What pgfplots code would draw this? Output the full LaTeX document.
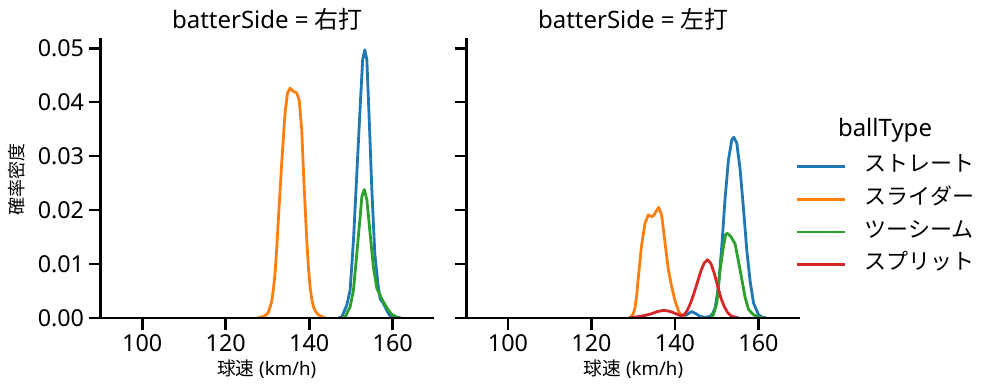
\documentclass[border=0pt]{standalone}
\usepackage{fontspec}
\setmainfont{Noto Sans}
\newfontfamily\cjk{Noto Sans CJK JP}
\usepackage{pgfplots}
\pgfplotsset{compat=1.18}
\definecolor{tabblue}{HTML}{1F77B4}
\definecolor{taborange}{HTML}{FF7F0E}
\definecolor{tabgreen}{HTML}{2CA02C}
\definecolor{tabred}{HTML}{D62728}
\pgfplotsset{
  kdeaxis/.style={
    anchor=south west,
    width=250.5pt, height=210pt, scale only axis,
    xmin=90, xmax=170, ymin=0, ymax=0.0519,
    axis lines=left,
    axis line style={-, line width=1.9pt, black},
    tick align=outside, major tick length=8.8pt,
    every tick/.style={line width=1.9pt, black},
    xtick={100,120,140,160},
    ytick={0,0.01,0.02,0.03,0.04,0.05},
    scaled y ticks=false,
    /pgf/number format/assume math mode=true,
    ticklabel style={font=\fontsize{17.5}{20}\selectfont},
    yticklabel style={/pgf/number format/fixed, /pgf/number format/fixed zerofill, /pgf/number format/precision=2},
    axis on top,
    every axis plot/.append style={line width=2.1pt, line join=round},
  }
}
\begin{document}
\begin{tikzpicture}
\useasboundingbox (0,0) rectangle (746.25pt,293.25pt);
\begin{axis}[kdeaxis, at={(75.375pt,54.75pt)}]
\addplot[tabblue] coordinates {(147.0,0) (147.8,0.0002) (149.0,0.0024) (149.8,0.0052) (150.6,0.0145) (151.4,0.0268) (152.2,0.0392) (152.8,0.0479) (153.3,0.0497) (153.8,0.0479) (154.4,0.0361) (155.0,0.0237) (155.7,0.0120) (156.5,0.0060) (157.0,0.0035) (157.7,0.0028) (158.5,0.0015) (159.3,0.0004) (160.1,0.0001) (161,0)};
\addplot[taborange] coordinates {(127.5,0) (128.2,0.0001) (129.4,0.0004) (130.2,0.0010) (131.0,0.0030) (131.4,0.0052) (131.8,0.0083) (132.2,0.0128) (132.6,0.0182) (133.4,0.0287) (134.2,0.0380) (134.8,0.0417) (135.4,0.0426) (136.2,0.0420) (137.0,0.0417) (137.6,0.0404) (138.2,0.0349) (138.7,0.0256) (139.4,0.0145) (139.8,0.0095) (140.2,0.0058) (140.6,0.0035) (141.0,0.0021) (141.6,0.0011) (142.2,0.0006) (143.4,0.0001) (144,0)};
\addplot[tabgreen] coordinates {(148,0) (148.6,0.0002) (149.8,0.0021) (150.6,0.0052) (151.4,0.0120) (152.2,0.0188) (152.6,0.0225) (153.2,0.0238) (153.8,0.0219) (154.6,0.0155) (155.4,0.0092) (156.2,0.0055) (157.4,0.0035) (158.5,0.0020) (159.7,0.0007) (160.9,0.0002) (162,0)};
\end{axis}
\begin{axis}[kdeaxis, at={(349.69pt,54.75pt)}, yticklabels={},
  legend style={at={(0.9858,0.5786)}, anchor=north west, draw=none, fill=none,
    inner sep=0pt, outer sep=0pt, row sep=8.5pt, column sep=14pt,
    font=\fontsize{16.5}{20}\selectfont\cjk,
    nodes={inner sep=0pt, text height=12pt, text depth=4pt}},
  legend cell align=left,
  legend image code/.code={\draw[#1] (0pt,0pt) -- (36pt,0pt);}]
\addplot[tabblue] coordinates {(141,0) (142,0.0002) (143,0.0007) (144.0,0.0012) (145.0,0.0008) (146,0.0003) (147.2,0.0001) (148.4,0.0003) (149.0,0.0008) (149.6,0.0018) (150.4,0.0058) (151.2,0.0132) (152.0,0.0222) (152.8,0.0293) (153.6,0.0330) (154.1,0.0335) (154.8,0.0324) (155.6,0.0275) (156.4,0.0203) (157.2,0.0125) (158.0,0.0068) (158.8,0.0028) (160.0,0.0006) (161.0,0.0001) (162,0)};
\addlegendentry{ストレート}
\addplot[taborange] coordinates {(129,0) (129.5,0.0002) (130.0,0.0008) (130.4,0.0018) (130.8,0.0040) (131.2,0.0074) (132.0,0.0135) (132.8,0.0175) (133.6,0.0191) (134.4,0.0188) (134.9,0.0190) (135.5,0.0198) (136.1,0.0205) (136.8,0.0191) (137.6,0.0140) (138.4,0.0090) (139.2,0.0058) (140.0,0.0032) (141.0,0.0010) (142.0,0.0002) (142.5,0)};
\addlegendentry{スライダー}
\addplot[tabgreen] coordinates {(148.4,0) (149.2,0.0006) (150.0,0.0027) (150.8,0.0089) (151.6,0.0132) (152.1,0.0154) (152.5,0.0157) (153.0,0.0154) (153.6,0.0148) (154.4,0.0137) (155.2,0.0105) (156.0,0.0072) (156.8,0.0038) (157.6,0.0016) (158.8,0.0006) (160,0.0002) (161.6,0)};
\addlegendentry{ツーシーム}
\addplot[tabred] coordinates {(129,0) (130,0.0001) (131.6,0.0003) (133,0.0005) (134.4,0.0008) (135.8,0.0012) (137.2,0.0014) (138.4,0.0013) (139.6,0.0010) (140.8,0.0006) (141.6,0.0004) (142.3,0.0007) (143.0,0.0015) (143.8,0.0029) (144.6,0.0047) (145.4,0.0067) (146.2,0.0087) (147.0,0.0102) (147.8,0.0108) (148.6,0.0101) (149.4,0.0083) (150.2,0.0060) (151.0,0.0037) (151.8,0.0021) (152.6,0.0010) (153.4,0.0004) (154.2,0.0002) (155.2,0)};
\addlegendentry{スプリット}
\end{axis}
\node[anchor=base, inner sep=0pt, font=\fontsize{18}{21}\selectfont] at (200.6pt,272pt) {batterSide = {\cjk 右打}};
\node[anchor=base, inner sep=0pt, font=\fontsize{18}{21}\selectfont] at (475.1pt,272pt) {batterSide = {\cjk 左打}};
\node[anchor=base, inner sep=0pt, font=\fontsize{14}{16}\selectfont] at (200pt,11.25pt) {{\cjk 球速} (km/h)};
\node[anchor=base, inner sep=0pt, font=\fontsize{14}{16}\selectfont] at (475.1pt,11.25pt) {{\cjk 球速} (km/h)};
\node[rotate=90, anchor=center, inner sep=0pt, font=\fontsize{13.5}{16}\selectfont\cjk] at (12.4pt,158.25pt) {確率密度};
\node[anchor=base, inner sep=0pt, font=\fontsize{18}{21}\selectfont] at (663.75pt,190.7pt) {ballType};
\end{tikzpicture}
\end{document}
